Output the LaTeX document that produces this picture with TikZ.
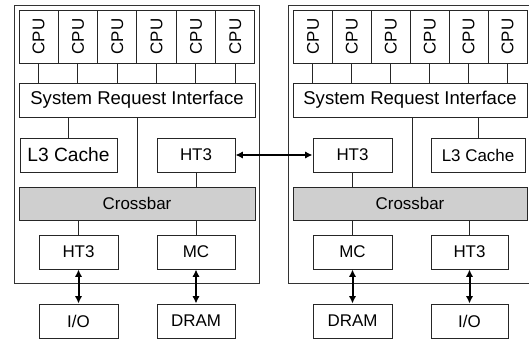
\documentclass[tikz,border=0pt]{standalone}
\usepackage{fontspec}
\setmainfont{Liberation Sans}
\usetikzlibrary{fit,arrows.meta}
\tikzset{
  box/.style={draw=black!85, line width=0.75pt, inner sep=0pt},
  graybox/.style={box, fill=black!19},
  txt/.style={label={[font=\fontsize{12.7}{14}\selectfont]center:#1}},
  bigtxt/.style={label={[font=\fontsize{14.4}{16}\selectfont]center:#1}},
  sritxt/.style={label={[font=\fontsize{13.9}{16}\selectfont]center:System Request Interface}},
  cputxt/.style={label={[rotate=90, font=\fontsize{12.7}{14}\selectfont]center:CPU}},
  outer/.style={draw=black!80, line width=0.75pt},
  wire/.style={draw=black!85, line width=0.75pt},
  biarrow/.style={draw=black, line width=1.5pt, {Latex[length=5.5pt,width=5.5pt]}-{Latex[length=5.5pt,width=5.5pt]}},
}
\begin{document}
\begin{tikzpicture}[x=0.75pt, y=-0.75pt]
\useasboundingbox (0,0) rectangle (529,343);
\clip (0,0) rectangle (529,343);

% ---------------- left processor ----------------
\draw[outer] (14,5) rectangle (259,283);
\foreach \i in {1,...,6} {
  \pgfmathsetmacro{\xa}{19+(\i-1)*39.33}
  \pgfmathsetmacro{\xb}{19+\i*39.33}
  \node[box, cputxt, fit={(\xa,10) (\xb,63)}] (lcpu\i) {};
}
\node[box, sritxt, fit={(19,83) (255,117)}] (lsri) {};
\node[box, bigtxt={L3 Cache}, fit={(20,138) (117,172)}] (ll3) {};
\node[box, txt={HT3}, fit={(157,138) (235,172)}] (lht3a) {};
\node[graybox, txt={Crossbar}, fit={(19,187) (255,220)}] (lxbar) {};
\node[box, txt={HT3}, fit={(39,235) (118,269)}] (lht3b) {};
\node[box, txt={MC}, fit={(157,235) (235,269)}] (lmc) {};
\node[box, txt={I/O}, fit={(39,304) (118,338)}] (lio) {};
\node[box, txt={DRAM}, fit={(157,304) (235,338)}] (ldram) {};
\coordinate (lbus) at (137,0);

\foreach \i in {1,...,6} \draw[wire] (lcpu\i.south) -- (lcpu\i.south |- lsri.north);
\draw[wire] (ll3.north) -- (ll3.north |- lsri.south);
\draw[wire] (lsri.south -| lbus) -- (lxbar.north -| lbus);
\draw[wire] (lht3a.south) -- (lht3a.south |- lxbar.north);
\draw[wire] (lht3b.north) -- (lht3b.north |- lxbar.south);
\draw[wire] (lmc.north) -- (lmc.north |- lxbar.south);
\draw[biarrow] (lht3b.south) -- (lio.north);
\draw[biarrow] (lmc.south) -- (ldram.north);

% ---------------- right processor ----------------
\draw[outer] (288,5) rectangle (534,283);
\foreach \i in {1,...,6} {
  \pgfmathsetmacro{\xa}{293.5+(\i-1)*38.92}
  \pgfmathsetmacro{\xb}{293.5+\i*38.92}
  \node[box, cputxt, fit={(\xa,10) (\xb,63)}] (rcpu\i) {};
}
\node[box, sritxt, fit={(293,83) (527,117)}] (rsri) {};
\node[box, txt={HT3}, fit={(313,138) (392,172)}] (rht3a) {};
\node[box, txt={L3 Cache}, fit={(431,138) (525,172)}] (rl3) {};
\node[graybox, txt={Crossbar}, fit={(293,187) (527,220)}] (rxbar) {};
\node[box, txt={MC}, fit={(313,235) (392,269)}] (rmc) {};
\node[box, txt={HT3}, fit={(431,235) (508,269)}] (rht3b) {};
\node[box, txt={DRAM}, fit={(313,304) (392,338)}] (rdram) {};
\node[box, txt={I/O}, fit={(431,304) (508,338)}] (rio) {};
\coordinate (rbus) at (412,0);

\foreach \i in {1,...,6} \draw[wire] (rcpu\i.south) -- (rcpu\i.south |- rsri.north);
\draw[wire] (rl3.north) -- (rl3.north |- rsri.south);
\draw[wire] (rsri.south -| rbus) -- (rxbar.north -| rbus);
\draw[wire] (rht3a.south) -- (rht3a.south |- rxbar.north);
\draw[wire] (rmc.north) -- (rmc.north |- rxbar.south);
\draw[wire] (rht3b.north) -- (rht3b.north |- rxbar.south);
\draw[biarrow] (rmc.south) -- (rdram.north);
\draw[biarrow] (rht3b.south) -- (rio.north);

% ---------------- HyperTransport link between the two ----------------
\draw[biarrow, line width=1.1pt] (lht3a.east) -- (rht3a.west);
\end{tikzpicture}
\end{document}
